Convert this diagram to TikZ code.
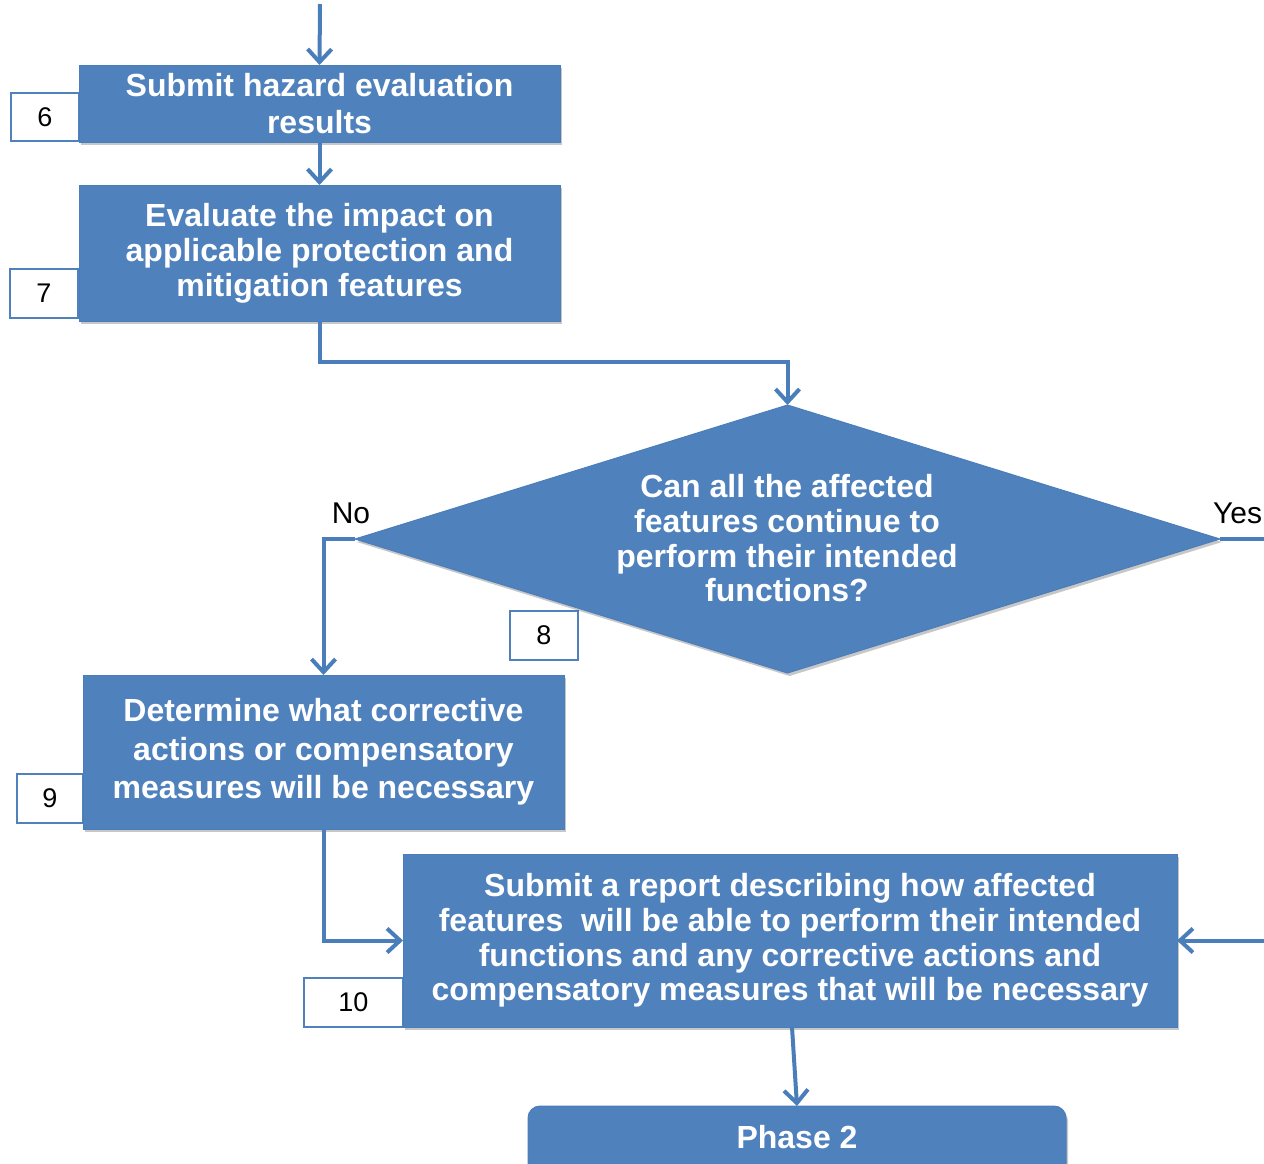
\documentclass[tikz,border=0pt]{standalone}
\usepackage{fontspec}
\setmainfont{Liberation Sans}
\usetikzlibrary{arrows.meta,shapes.geometric,shadows}

\definecolor{boxblue}{HTML}{4F81BD}
\definecolor{boxedge}{HTML}{4A7EBB}
\definecolor{lineblue}{HTML}{4A7EBB}

\tikzset{
  proc/.style={rectangle, fill=boxblue, draw=boxedge, line width=1pt,
    text=white, align=center, inner sep=0pt, outer sep=0pt,
    font=\bfseries\fontsize{32}{35}\selectfont,
    drop shadow={shadow xshift=2pt, shadow yshift=-3pt, opacity=0.22, fill=black}},
  lines/.style={font=\bfseries\fontsize{32}{#1}\selectfont},
  tag/.style={rectangle, fill=white, draw=boxblue, line width=1.5pt,
    inner sep=0pt, outer sep=0pt, font=\fontsize{27}{30}\selectfont},
  answer/.style={inner sep=0pt, font=\fontsize{30}{34}\selectfont},
  conn/.style={draw=lineblue, line width=4pt},
  arr/.style={conn, -{Straight Barb[length=13pt, width=24pt]}}
}

\begin{document}
\begin{tikzpicture}[x=1pt, y=-1pt]
\useasboundingbox (0,0) rectangle (1264,1163);

% step numbers, drawn first so the boxes sit over their right edges
\node[tag, minimum width=68, minimum height=48] (t6) at (45,117) {6};
\node[tag, minimum width=68, minimum height=49] (t7) at (44,293.5) {7};
\node[tag, minimum width=68, minimum height=49] (t8) at (544,635.5) {8};
\node[tag, minimum width=66, minimum height=49] (t9) at (50,798.5) {9};
\node[tag, minimum width=99, minimum height=49] (t10) at (353.5,1002.5) {10};

% process boxes
\node[proc, lines=37, minimum width=481, minimum height=77] (b6) at (319.5,103.5)
  {Submit hazard evaluation\\results};
\node[proc, lines=35, minimum width=481, minimum height=136] (b7) at (319.5,253)
  {Evaluate the impact on\\applicable protection and\\mitigation features};

% decision
\node[diamond, fill=boxblue, draw=boxedge, line width=1pt, inner sep=0pt, outer sep=0pt,
  minimum width=865, minimum height=268,
  drop shadow={shadow xshift=2pt, shadow yshift=-3pt, opacity=0.22, fill=black}] (q) at (787.5,539) {};
\node[text=white, align=center, inner sep=0pt, lines=34.7]
  (qtext) at (787,538.5)
  {Can all the affected\\features continue to\\perform their intended\\functions?};

\node[proc, lines=38.5, minimum width=481, minimum height=154] (b9) at (323.5,752)
  {Determine what corrective\\actions or compensatory\\measures will be necessary};
\node[proc, lines=34.7, minimum width=774, minimum height=173] (b10) at (790,940.5)
  {Submit a report describing how affected\\features\ \ will be able to perform their intended\\functions and any corrective actions and\\compensatory measures that will be necessary};

% next phase
\node[proc, rounded corners=12pt, minimum width=538, minimum height=84] (p2) at (797,1148) {};
\node[text=white, inner sep=0pt, lines=36] (p2text) at (797,1137) {Phase 2};

% branch answers
\node[answer] (no) at (351,513) {No};
\node[answer, anchor=west] (yes) at (1213,513) {Yes};

% connectors
\coordinate (entry) at (320,4);
\coordinate (yesturn) at (1282,539);
\draw[arr] (entry) -- (b6.north);
\draw[arr] (b6.south) -- (b7.north);
\draw[arr] (b7.south) -- ++(0,41) -| (q.north);
\draw[arr] (q.west) -| (b9.north);
\draw[arr] (b9.south) |- (b10.west);
\draw[arr] (q.east) -- (yesturn) |- (b10.east);
\draw[arr] ([xshift=2pt]b10.south) -- (p2.north);
\end{tikzpicture}
\end{document}
